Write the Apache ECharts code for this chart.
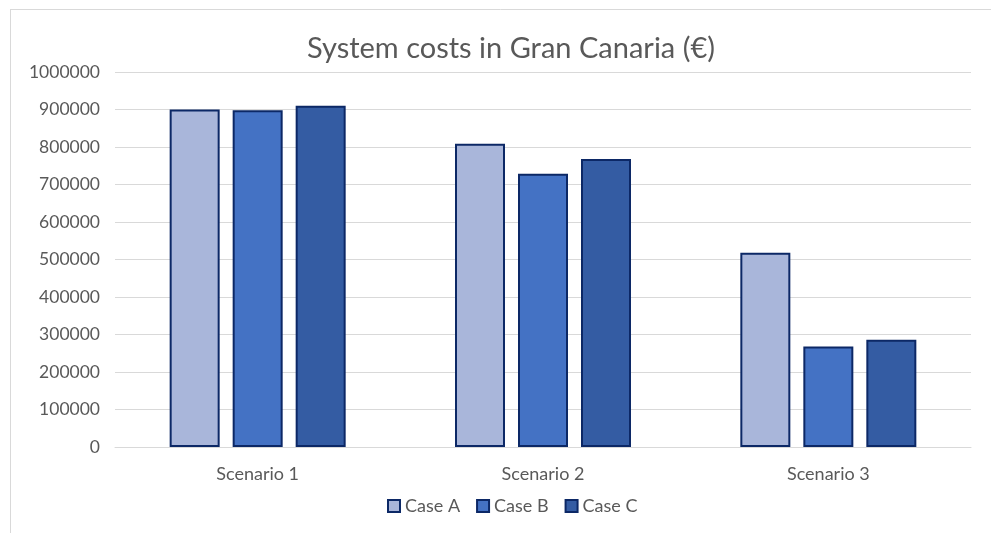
<!DOCTYPE html>
<html>
<head>
<meta charset="utf-8">
<script src="https://cdn.jsdelivr.net/npm/echarts@6/dist/echarts.min.js"></script>
<style>
  html, body { margin: 0; padding: 0; background: #fff; }
  #chart { width: 991px; height: 533px; }
</style>
</head>
<body>
<div id="chart"></div>
<script>
const scenarios = ['Scenario 1', 'Scenario 2', 'Scenario 3'];
const caseA = [900000, 809000, 518000];
const caseB = [898000, 729000, 268000];
const caseC = [910000, 768000, 286000];

const font = 'Lato, "Open Sans", sans-serif';
const border = '#0c2866';

const chart = echarts.init(document.getElementById('chart'));
chart.setOption({
  backgroundColor: '#fff',
  animation: false,
  title: {
    text: 'System costs in Gran Canaria (€)',
    left: 302,
    top: 29,
    textStyle: { fontFamily: font, fontSize: 29, fontWeight: 'normal', color: '#595959' }
  },
  legend: {
    bottom: 13,
    left: 382,
    icon: 'rect',
    itemWidth: 12,
    itemHeight: 12,
    itemGap: 16,
    textStyle: { fontFamily: font, fontSize: 18, color: '#595959' },
    data: ['Case A', 'Case B', 'Case C']
  },
  grid: { left: 115, right: 20, top: 72, bottom: 86 },
  xAxis: {
    type: 'category',
    data: scenarios,
    axisTick: { show: false },
    axisLine: { lineStyle: { color: '#d9d9d9', width: 1 } },
    axisLabel: { fontFamily: font, fontSize: 18, color: '#595959', margin: 18 }
  },
  yAxis: {
    type: 'value',
    min: 0,
    max: 1000000,
    interval: 100000,
    axisLine: { show: false },
    axisTick: { show: false },
    splitLine: { lineStyle: { color: '#d9d9d9', width: 1 } },
    axisLabel: { fontFamily: font, fontSize: 17.5, color: '#595959', margin: 15, formatter: v => String(v) }
  },
  series: [
    { name: 'Case A', type: 'bar', data: caseA, barWidth: 50, barGap: '26%',
      itemStyle: { color: '#a9b6da', borderColor: border, borderWidth: 2 } },
    { name: 'Case B', type: 'bar', data: caseB, barWidth: 50, barGap: '26%',
      itemStyle: { color: '#4472c4', borderColor: border, borderWidth: 2 } },
    { name: 'Case C', type: 'bar', data: caseC, barWidth: 50, barGap: '26%',
      itemStyle: { color: '#345ca3', borderColor: border, borderWidth: 2 } }
  ],
  graphic: [
    { type: 'line', shape: { x1: 10, y1: 9.5, x2: 991, y2: 9.5 }, style: { stroke: '#d9d9d9', lineWidth: 1 } },
    { type: 'line', shape: { x1: 10.5, y1: 9, x2: 10.5, y2: 533 }, style: { stroke: '#d9d9d9', lineWidth: 1 } }
  ]
});
</script>
</body>
</html>
